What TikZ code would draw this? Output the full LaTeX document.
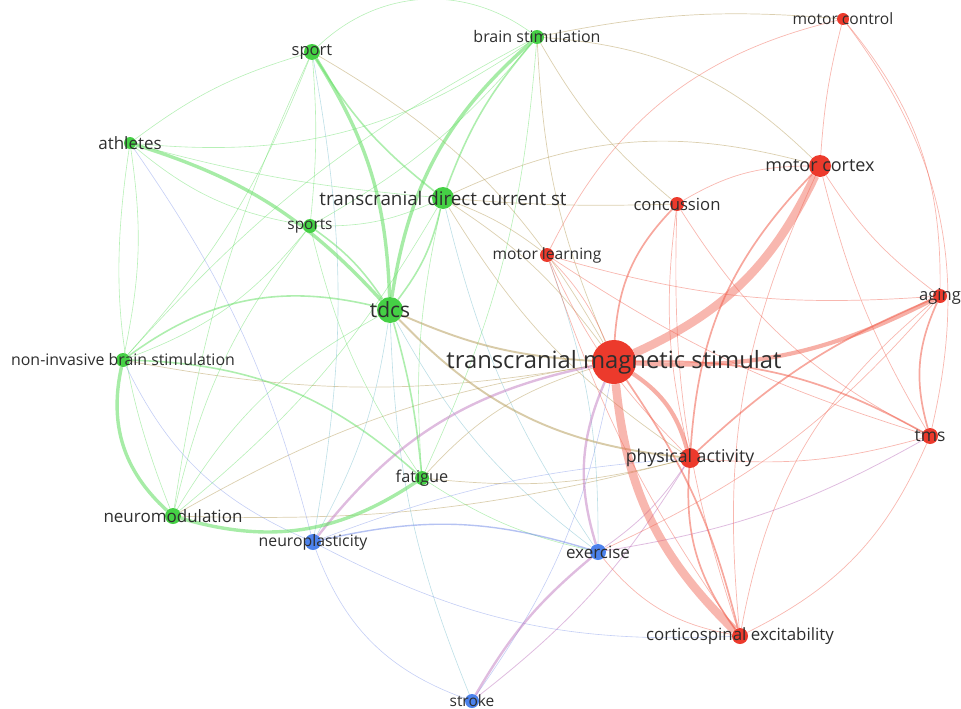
\documentclass[tikz,border=0pt]{standalone}
\usepackage{fontspec}
\setmainfont{Open Sans}
\usetikzlibrary{backgrounds}
\definecolor{nG}{HTML}{45D045}
\definecolor{nR}{HTML}{EC3A2C}
\definecolor{nB}{HTML}{4C82EC}
\definecolor{eG}{HTML}{5EDD5E}
\definecolor{eR}{HTML}{F0604E}
\definecolor{eB}{HTML}{6C86E6}
\definecolor{eO}{HTML}{B8A060}
\definecolor{eP}{HTML}{C07AC0}
\definecolor{eC}{HTML}{6CB8C8}
\definecolor{txt}{HTML}{2E2E2E}
\newcommand\lfs[1]{\fontsize{#1}{#1}\selectfont}
\tikzset{
 vdot/.style={circle, inner sep=0pt, minimum size=#1},
 gN/.style={fill=nG}, rN/.style={fill=nR}, bN/.style={fill=nB},
 lab/.style={inner sep=0pt, text=txt},
 g1/.style={draw=eG, line width=0.6pt, draw opacity=0.45},
 g2/.style={draw=eG, line width=1.6pt, draw opacity=0.5},
 g3/.style={draw=eG, line width=3.4pt, draw opacity=0.55},
 r1/.style={draw=eR, line width=0.7pt, draw opacity=0.45},
 r2/.style={draw=eR, line width=1.7pt, draw opacity=0.55},
 r3/.style={draw=eR, line width=4.2pt, draw opacity=0.5},
 r4/.style={draw=eR, line width=8.5pt, draw opacity=0.45},
 b1/.style={draw=eB, line width=0.6pt, draw opacity=0.4},
 b2/.style={draw=eB, line width=1.4pt, draw opacity=0.5},
 o1/.style={draw=eO, line width=0.7pt, draw opacity=0.5},
 o2/.style={draw=eO, line width=1.9pt, draw opacity=0.55},
 p1/.style={draw=eP, line width=0.8pt, draw opacity=0.5},
 p2/.style={draw=eP, line width=2.4pt, draw opacity=0.5},
 c1/.style={draw=eC, line width=0.6pt, draw opacity=0.45},
}
\begin{document}
\begin{tikzpicture}[x=1pt,y=-1pt]
\useasboundingbox (0,0) rectangle (961,709);
% nodes
\node[vdot=16,gN] (sport) at (312,52) {};
\node[vdot=14,gN] (bstim) at (537,37) {};
\node[vdot=12,rN] (mcontrol) at (843,19) {};
\node[vdot=12,gN] (athletes) at (130,143) {};
\node[vdot=22,rN] (mcortex) at (820,166) {};
\node[vdot=22,gN] (tdcst) at (443,198) {};
\node[vdot=14,rN] (concussion) at (677,204) {};
\node[vdot=14,gN] (sports) at (310,226) {};
\node[vdot=14,rN] (mlearn) at (547,255) {};
\node[vdot=26,gN] (tdcs) at (390,310) {};
\node[vdot=14,rN] (aging) at (940,296) {};
\node[vdot=14,gN] (noninv) at (123,360) {};
\node[vdot=44,rN] (tmsbig) at (614,362) {};
\node[vdot=16,rN] (tms) at (930,436) {};
\node[vdot=20,rN] (pa) at (690,458) {};
\node[vdot=14,gN] (fatigue) at (422,478) {};
\node[vdot=16,gN] (neuromod) at (173,516) {};
\node[vdot=16,bN] (neuroplast) at (313,542) {};
\node[vdot=16,bN] (exercise) at (598,552) {};
\node[vdot=16,rN] (cse) at (740,636) {};
\node[vdot=14,bN] (stroke) at (472,701) {};
% labels
\node[lab,font=\lfs{16.5}] (sport-l) at (sport) {sport};
\node[lab,font=\lfs{16}] (bstim-l) at (bstim) {brain stimulation};
\node[lab,font=\lfs{15.6}] (mcontrol-l) at (mcontrol) {motor control};
\node[lab,font=\lfs{17}] (athletes-l) at (athletes) {athletes};
\node[lab,font=\lfs{18}] (mcortex-l) at (mcortex) {motor cortex};
\node[lab,font=\lfs{18.8}] (tdcst-l) at (tdcst) {transcranial direct current st};
\node[lab,font=\lfs{16.7}] (concussion-l) at (concussion) {concussion};
\node[lab,font=\lfs{15.4}] (sports-l) at (sports) {sports};
\node[lab,font=\lfs{15.6}] (mlearn-l) at (mlearn) {motor learning};
\node[lab,font=\lfs{21}] (tdcs-l) at (tdcs) {tdcs};
\node[lab,font=\lfs{16.5}] (aging-l) at (aging) {aging};
\node[lab,font=\lfs{15.9}] (noninv-l) at (noninv) {non-invasive brain stimulation};
\node[lab,font=\lfs{23.8}] (tmsbig-l) at (tmsbig) {transcranial magnetic stimulat};
\node[lab,font=\lfs{17.5}] (tms-l) at (tms) {tms};
\node[lab,font=\lfs{17.7}] (pa-l) at (pa) {physical activity};
\node[lab,font=\lfs{16.3}] (fatigue-l) at (fatigue) {fatigue};
\node[lab,font=\lfs{17}] (neuromod-l) at (neuromod) {neuromodulation};
\node[lab,font=\lfs{15.8}] (neuroplast-l) at (neuroplast) {neuroplasticity};
\node[lab,font=\lfs{17}] (exercise-l) at (exercise) {exercise};
\node[lab,font=\lfs{16.9}] (cse-l) at (cse) {corticospinal excitability};
\node[lab,font=\lfs{15.5},anchor=south] (stroke-l) at ([yshift=-6pt]stroke.center) {stroke};
% edges
\begin{scope}[on background layer]
\foreach \a/\b/\s/\t in {
 athletes/noninv/g1/10, athletes/neuromod/g1/-15, athletes/tdcst/g1/-5,
 athletes/bstim/g1/-20, athletes/sports/g1/-15, athletes/sport/g1/10,
 sport/sports/g1/5, sport/noninv/g1/10, sport/neuromod/g1/-8,
 sport/bstim/g1/40, sport/tdcst/g2/-10, sport/tmsbig/o1/15,
 bstim/tdcst/g2/-10, bstim/sports/g1/10, bstim/noninv/g1/-10,
 bstim/tmsbig/o1/-10, bstim/mcortex/o1/20, bstim/mcontrol/o1/8,
 bstim/concussion/o1/-10, bstim/fatigue/g1/10,
 tdcst/tmsbig/o1/10, tdcst/pa/o1/-12, tdcst/exercise/c1/-10,
 tdcst/neuromod/g1/10, tdcst/fatigue/g1/-8, tdcst/sports/g1/12,
 tdcs/neuromod/g1/-15, tdcs/neuroplast/c1/10, tdcs/exercise/c1/-12,
 tdcs/stroke/c1/-10,
 noninv/tmsbig/o1/-10, noninv/neuroplast/b1/-20, noninv/sports/g1/-15,
 neuromod/tmsbig/o1/10, neuromod/sports/g1/12, neuromod/pa/o1/-8,
 neuroplast/athletes/b1/-10, neuroplast/sport/c1/-10, neuroplast/stroke/b1/-25,
 neuroplast/cse/b1/-15, neuroplast/pa/b1/8,
 fatigue/tmsbig/o1/15, fatigue/pa/o1/-10, fatigue/sports/g1/10,
 fatigue/exercise/g1/-10,
 stroke/tmsbig/b1/-12, stroke/pa/p1/-10,
 exercise/pa/p1/-10, exercise/cse/r1/-20, exercise/tms/p1/-10,
 exercise/mlearn/c1/-10, exercise/aging/r1/-12,
 mlearn/tmsbig/r1/10, mlearn/pa/r1/-10, mlearn/cse/r1/-8,
 mlearn/aging/r1/-10, mlearn/tdcst/o1/-8, mlearn/mcontrol/r1/25,
 mlearn/tms/r1/-8,
 concussion/tdcst/o1/3, concussion/pa/r1/-10, concussion/tms/r1/-15,
 concussion/cse/r1/-10, concussion/mcortex/r1/15,
 mcortex/tdcst/o1/-20, mcortex/aging/r1/-10, mcortex/tms/r1/-8,
 mcortex/cse/r1/-15, mcortex/mcontrol/r1/5,
 mcontrol/aging/r1/20, mcontrol/tms/r1/25,
 tms/cse/r1/20, aging/cse/r1/-20, pa/tms/r1/-10,
 tmsbig/tms/r2/15, tmsbig/concussion/r2/20, mcortex/pa/r2/-20,
 pa/cse/r2/-20, pa/aging/r2/10, aging/tms/r2/-20, tmsbig/cse/r2/10,
 neuroplast/exercise/b2/15, stroke/exercise/p2/10, neuroplast/tmsbig/p2/20,
 exercise/tmsbig/p2/20,
 tdcs/tmsbig/o2/-10, tdcs/pa/o2/-20,
 tdcs/tdcst/g2/-12, sports/tdcs/g2/10, tdcs/fatigue/g2/5,
 tdcs/noninv/g2/-25, noninv/fatigue/g2/20,
 athletes/tdcs/g3/15, sport/tdcs/g3/15, bstim/tdcs/g3/-20,
 noninv/neuromod/g3/-30, neuromod/fatigue/g3/-25,
 tmsbig/pa/r3/20, tmsbig/aging/r3/-15,
 tmsbig/mcortex/r4/-20, tmsbig/cse/r4/-20%
}
 \draw[\s] (\a) to[bend left=\t] (\b);
\end{scope}
\end{tikzpicture}
\end{document}
